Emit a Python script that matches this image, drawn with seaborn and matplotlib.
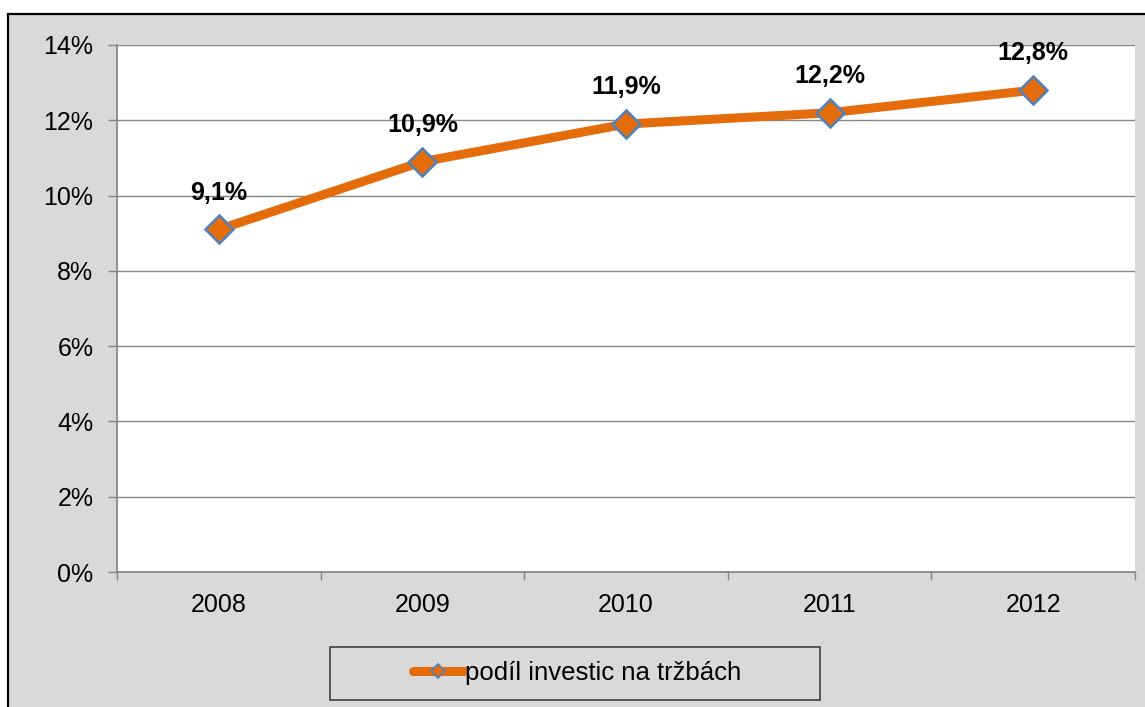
import matplotlib
matplotlib.use("Agg")
import matplotlib.pyplot as plt
import seaborn as sns
import pandas as pd
from matplotlib.patches import Rectangle
from matplotlib.ticker import FuncFormatter, FixedLocator

years = ["2008", "2009", "2010", "2011", "2012"]
values = [9.1, 10.9, 11.9, 12.2, 12.8]
labels = ["9,1%", "10,9%", "11,9%", "12,2%", "12,8%"]
series_name = "podíl investic na tržbách"

df = pd.DataFrame({"year": years, "value": values, "series": series_name})
df["x"] = range(len(years))

sns.set_theme(style="white")
plt.rcParams['font.family'] = ['Liberation Sans', 'DejaVu Sans']

fig = plt.figure(figsize=(11.45, 7.07), dpi=100)
fig.patch.set_facecolor("white")
W, H = 1145, 707
# gray background with black border
bg = Rectangle((8 / W, -0.01), 1.1, 1 - 14 / H + 0.01, transform=fig.transFigure,
               facecolor="#d9d9d9", edgecolor="black", linewidth=1.6, zorder=-5)
fig.patches.append(bg)
# legend frame
lf = Rectangle((330 / W, 1 - 700 / H), (820 - 330) / W, (700 - 647) / H, transform=fig.transFigure,
               facecolor="#d9d9d9", edgecolor="#404040", linewidth=1.2, zorder=-4)
fig.patches.append(lf)

ax = fig.add_axes([117 / W, 1 - 572 / H, (1135 - 117) / W, (572 - 45) / H])
ax.set_facecolor("white")

orange = "#E46C0A"
sns.lineplot(data=df, x="x", y="value", hue="series", palette=[orange], ax=ax,
             linewidth=6.5, marker="D", markersize=14, markeredgecolor="#4F81BD",
             markeredgewidth=1.8, markerfacecolor=orange, legend=True)

ax.set_xlim(-0.5, len(years) - 0.5)
ax.set_ylim(0, 14)
ax.set_yticks(range(0, 15, 2))
ax.yaxis.set_major_formatter(FuncFormatter(lambda v, p: f"{int(v)}%"))
ax.set_xticks(range(len(years)))
ax.set_xticklabels(years)
ax.xaxis.set_minor_locator(FixedLocator([i - 0.5 for i in range(len(years) + 1)]))
ax.tick_params(axis="x", which="major", length=0, pad=15, labelsize=18, labelcolor="black")
ax.tick_params(axis="x", which="minor", length=6, width=1, color="#868686", direction="out", bottom=True)
ax.tick_params(axis="y", which="major", length=6.5, width=1, color="#868686", direction="out", left=True,
               labelsize=18, pad=10.5, labelcolor="black")
ax.grid(axis="y", color="#868686", linewidth=1)
ax.set_axisbelow(True)
for side in ["top", "right"]:
    ax.spines[side].set_visible(False)
ax.spines["left"].set_color("#868686")
ax.spines["bottom"].set_color("#868686")
ax.set_xlabel("")
ax.set_ylabel("")

for i, (v, lab) in enumerate(zip(values, labels)):
    ax.annotate(lab, (i, v), xytext=(0, 21.5), textcoords="offset points",
                ha="center", va="baseline", fontsize=18, fontweight="bold", color="black")

handles, _ = ax.get_legend_handles_labels()
ax.get_legend().remove()
leg = fig.legend(handles, [series_name], loc="center",
                 bbox_to_anchor=(577 / W, 1 - 673 / H), frameon=False, fontsize=18.5,
                 handlelength=2.0, handletextpad=0.05, borderpad=0.0)
for t in leg.get_texts():
    t.set_color("black")
for h in leg.legend_handles:
    h.set_markersize(7.5)
    h.set_markeredgewidth(1.2)
    h.set_solid_capstyle("round")

fig.savefig("out.png", dpi=100)
